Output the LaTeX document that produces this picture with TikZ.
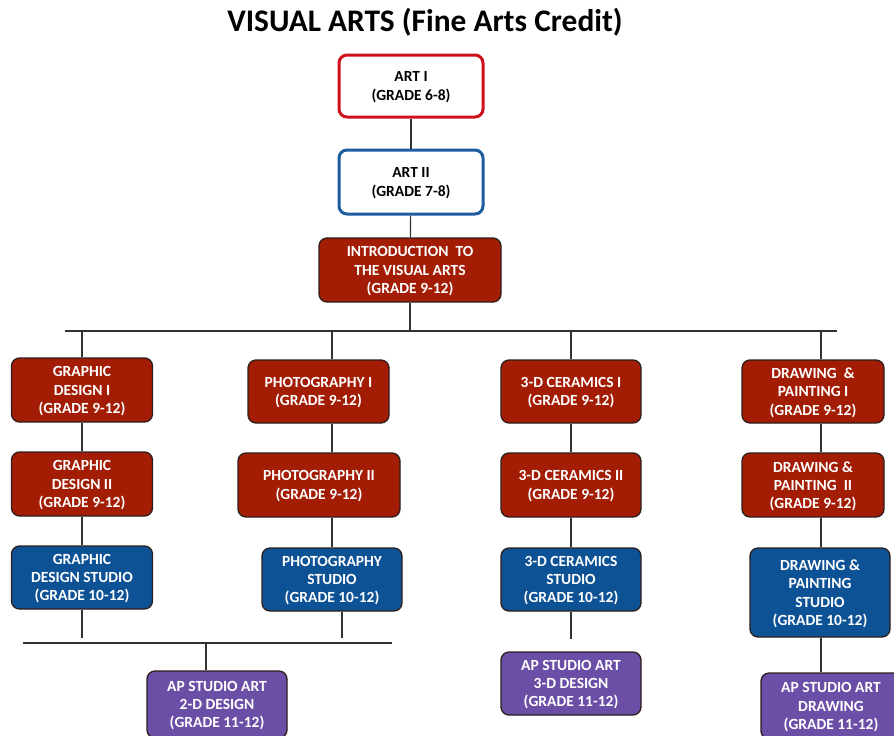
\documentclass[tikz,border=0pt]{standalone}
\usepackage{fontspec}
\setmainfont{Carlito}
\definecolor{cred}{RGB}{163,28,4}
\definecolor{cblue}{RGB}{14,82,150}
\definecolor{cpurple}{RGB}{107,78,166}
\definecolor{redline}{RGB}{208,16,26}
\definecolor{blueline}{RGB}{30,92,160}
\definecolor{edge}{RGB}{45,30,28}
\definecolor{conn}{RGB}{50,50,50}
\tikzset{
  box/.style={rectangle, rounded corners=8pt, align=center, inner sep=0pt, text depth=0pt,
    font=\fontsize{15.5}{18.3}\selectfont\bfseries},
  filled/.style={box, draw=edge, line width=1.3pt, text=white},
  redbox/.style={filled, fill=cred},
  bluebox/.style={filled, fill=cblue},
  purplebox/.style={filled, fill=cpurple},
  outlinebox/.style={box, fill=white, line width=3pt, text=black},
  conn/.style={draw=conn, line width=1.2pt},
}
\begin{document}
\begin{tikzpicture}[x=1pt,y=-1pt]
\useasboundingbox (0,0) rectangle (894,736);
\node[font=\fontsize{31.4}{35}\selectfont\bfseries] (title) at (425,22) {VISUAL ARTS (Fine Arts Credit)};

\node[outlinebox, draw=redline, minimum width=144pt, minimum height=62pt] (art1) at (411,86) {ART I\\(GRADE 6-8)};
\node[outlinebox, draw=blueline, minimum width=144pt, minimum height=64pt] (art2) at (411,182) {ART II\\(GRADE 7-8)};
\node[redbox, minimum width=182pt, minimum height=64pt] (intro) at (410,270) {INTRODUCTION \ TO\\THE VISUAL ARTS\\(GRADE 9-12)};

% column 1
\node[redbox, minimum width=141pt, minimum height=64pt] (gd1) at (82,390) {GRAPHIC\\DESIGN I\\(GRADE 9-12)};
\node[redbox, minimum width=141pt, minimum height=64pt] (gd2) at (82,484) {GRAPHIC\\DESIGN II\\(GRADE 9-12)};
\node[bluebox, minimum width=141pt, minimum height=63pt] (gds) at (82,577.5) {GRAPHIC\\DESIGN STUDIO\\(GRADE 10-12)};
% column 2
\node[redbox, minimum width=141pt, minimum height=63pt] (ph1) at (318.5,391.5) {PHOTOGRAPHY I\\(GRADE 9-12)};
\node[redbox, minimum width=162pt, minimum height=64pt] (ph2) at (319,485) {PHOTOGRAPHY II\\(GRADE 9-12)};
\node[bluebox, minimum width=140pt, minimum height=63pt] (phs) at (332,579.5) {PHOTOGRAPHY\\STUDIO\\(GRADE 10-12)};
% column 3
\node[redbox, minimum width=140pt, minimum height=63pt] (ce1) at (571,391.5) {3-D CERAMICS I\\(GRADE 9-12)};
\node[redbox, minimum width=140pt, minimum height=64pt] (ce2) at (571,485) {3-D CERAMICS II\\(GRADE 9-12)};
\node[bluebox, minimum width=140pt, minimum height=63pt] (ces) at (571,579.5) {3-D CERAMICS\\STUDIO\\(GRADE 10-12)};
% column 4
\node[redbox, minimum width=142pt, minimum height=63pt] (dp1) at (813,391.5) {DRAWING \ \&\\PAINTING I\\(GRADE 9-12)};
\node[redbox, minimum width=142pt, minimum height=64pt] (dp2) at (813,485) {DRAWING \&\\PAINTING \ II\\(GRADE 9-12)};
\node[bluebox, minimum width=140pt, minimum height=89pt] (dps) at (820,592.5) {DRAWING \&\\PAINTING\\STUDIO\\(GRADE 10-12)};
% AP
\node[purplebox, minimum width=140pt, minimum height=67pt] (ap2) at (217,704.5) {AP STUDIO ART\\2-D DESIGN\\(GRADE 11-12)};
\node[purplebox, minimum width=140pt, minimum height=63pt] (ap3) at (571,683.5) {AP STUDIO ART\\3-D DESIGN\\(GRADE 11-12)};
\node[purplebox, minimum width=140pt, minimum height=66pt] (apd) at (831,706) {AP STUDIO ART\\DRAWING\\(GRADE 11-12)};

% connectors
\coordinate (hl) at (65,331);
\coordinate (hr) at (837,331);
\coordinate (hm) at (410,331);
\coordinate (c1) at (82,331);
\coordinate (c2) at (332,331);
\coordinate (c3) at (571,331);
\coordinate (c4) at (821,331);
\draw[conn] (art1) -- (art2);
\draw[conn] (art2) -- (intro);
\draw[conn] (intro.south) -- (hm);
\draw[conn] (hl) -- (hr);
\draw[conn] (c1) -- (gd1.north);
\draw[conn] (c2) -- (ph1.north -| c2);
\draw[conn] (c3) -- (ce1.north);
\draw[conn] (c4) -- (dp1.north -| c4);

\draw[conn] (gd1) -- (gd2);
\draw[conn] (gd2) -- (gds);
\draw[conn] (ph1.south -| c2) -- (ph2.north -| c2);
\draw[conn] (ph2.south -| c2) -- (phs.north -| c2);
\draw[conn] (ce1) -- (ce2);
\draw[conn] (ce2) -- (ces);
\draw[conn] (dp1.south -| c4) -- (dp2.north -| c4);
\draw[conn] (dp2.south -| c4) -- (dps.north -| c4);

\coordinate (g1e) at (82,638);
\coordinate (p1e) at (342,638);
\coordinate (bl) at (23,643);
\coordinate (br) at (392,643);
\coordinate (bm) at (206,643);
\coordinate (c3e) at (571,639);
\draw[conn] (gds.south) -- (g1e);
\draw[conn] (phs.south -| p1e) -- (p1e);
\draw[conn] (bl) -- (br);
\draw[conn] (bm) -- (ap2.north -| bm);
\draw[conn] (ces.south) -- (c3e);
\draw[conn] (dps.south -| c4) -- (apd.north -| c4);
\end{tikzpicture}
\end{document}
